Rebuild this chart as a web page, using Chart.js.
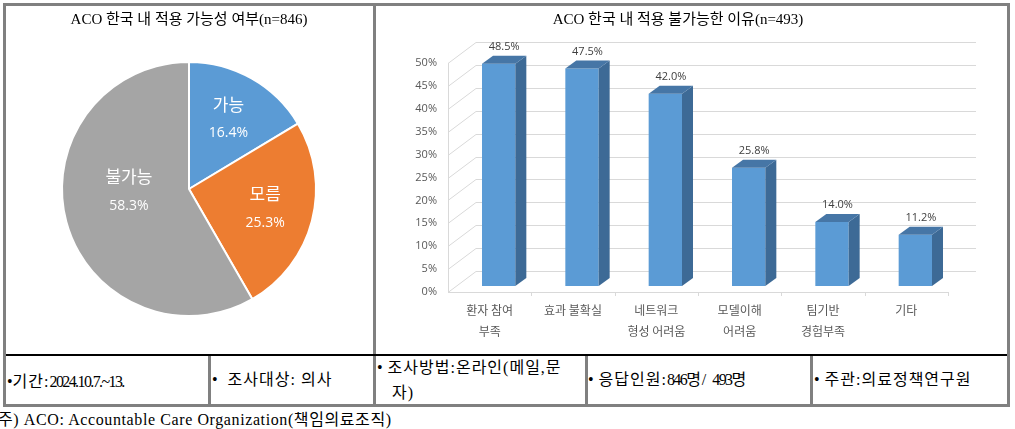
<!DOCTYPE html>
<html><head><meta charset="utf-8">
<script src="https://cdn.jsdelivr.net/npm/chart.js@4"></script>
<style>
html,body{margin:0;padding:0;background:#fff;width:1015px;height:429px;overflow:hidden;position:relative;font-family:'Liberation Serif','Noto Sans CJK KR',serif;}
.abs{position:absolute;}
.g{position:absolute;background:#808080;}
.cell{position:absolute;font-size:16px;color:#000;white-space:nowrap;line-height:25px;letter-spacing:1px;}
.num{letter-spacing:-1.6px;}
.b{letter-spacing:0;}
.foot{letter-spacing:0.6px;}
</style></head><body>
<div class="abs" style="left:3px;top:3px;width:1001px;height:398px;border:3px solid #808080;"></div>
<div class="g" style="left:373px;top:6px;width:3px;height:348px"></div>
<div class="abs" style="left:6px;top:354px;width:1001px;height:2px;background:#000"></div>
<div class="g" style="left:208px;top:356px;width:3px;height:48px"></div>
<div class="g" style="left:373px;top:356px;width:3px;height:48px"></div>
<div class="g" style="left:585px;top:356px;width:3px;height:48px"></div>
<div class="g" style="left:810px;top:356px;width:3px;height:48px"></div>
<canvas id="pie" class="abs" width="367" height="348" style="left:6px;top:6px"></canvas>
<canvas id="bar" class="abs" width="631" height="348" style="left:376px;top:6px"></canvas>

<div class="cell" style="left:7px;top:369px"><span class="b">•</span>기간:<span class="num">2024.10.7.~13.</span></div>
<div class="cell" style="left:212px;top:367px"><span class="b">•</span>&nbsp; 조사대상: 의사</div>
<div class="cell" style="left:377px;top:355px"><span class="b">•</span> 조사방법:온라인(메일,문<br>&nbsp;&nbsp; 자)</div>
<div class="cell" style="left:588px;top:367px"><span class="b">•</span> 응답인원:<span class="num">846</span>명/ <span class="num">493</span>명</div>
<div class="cell" style="left:814px;top:367px"><span class="b">•</span> 주관:의료정책연구원</div>
<div class="cell foot" style="left:-2px;top:407px">주) ACO: Accountable Care Organization(책임의료조직)</div>

<script>
// ---- data ----
const pieLabels = ['가능', '모름', '불가능'];
const pieValues = [16.4, 25.3, 58.3];
const barCategories = [['환자 참여', '부족'], ['효과 불확실'], ['네트워크', '형성 어려움'], ['모델이해', '어려움'], ['팀기반', '경험부족'], ['기타']];
const barValues = [48.5, 47.5, 42.0, 25.8, 14.0, 11.2];
const yTickMax = 50;
const yTickStep = 5;

const pieColors = ['#5B9BD5', '#ED7D31', '#A5A5A5'];
const titleFont = {family: "'Liberation Serif','Noto Sans CJK KR',serif", size: 15, weight: 'normal', lineHeight: 1.2};

// ---- pie labels plugin ----
const pieLabelPlugin = {
  id: 'pieLabels',
  afterDatasetsDraw(chart, args, opts) {
    const ctx = chart.ctx;
    const meta = chart.getDatasetMeta(0);
    ctx.save();
    ctx.fillStyle = '#fff';
    ctx.textAlign = 'center';
    ctx.textBaseline = 'middle';
    meta.data.forEach((arc, i) => {
      const p = arc.getProps(['x', 'y', 'startAngle', 'endAngle', 'outerRadius'], true);
      const mid = (p.startAngle + p.endAngle) / 2;
      const r = p.outerRadius * opts.radial[i];
      const cx = p.x + Math.cos(mid) * r + opts.nudge[i][0];
      const cy = p.y + Math.sin(mid) * r + opts.nudge[i][1];
      ctx.font = "17px 'Noto Sans CJK KR', sans-serif";
      ctx.fillText(pieLabels[i], cx, cy - 15);
      ctx.font = "14px 'Open Sans', 'Noto Sans', sans-serif";
      ctx.fillText(pieValues[i].toFixed(1) + '%', cx, cy + 14);
    });
    ctx.restore();
  }
};

new Chart(document.getElementById('pie'), {
  type: 'pie',
  data: {labels: pieLabels, datasets: [{data: pieValues, backgroundColor: pieColors, borderColor: '#fff', borderWidth: 2}]},
  options: {
    responsive: false, animation: false,
    layout: {padding: {left: 55, right: 56, top: 0, bottom: 37}},
    plugins: {
      legend: {display: false}, tooltip: {enabled: false},
      title: {display: true, text: 'ACO 한국 내 적용 가능성 여부(n=846)', color: '#000', font: titleFont, padding: {top: 5, bottom: 32}},
      pieLabels: {radial: [0.63, 0.62, 0.49], nudge: [[0, 0], [0, 0], [0, -13]]}
    }
  },
  plugins: [pieLabelPlugin]
});

// ---- 3D bar plugin ----
const DX = 28, DY = -21;   // wall depth
const BDX = 11, BDY = -8;  // bar depth
const SX = 9, SY = -6;     // bar plane shift
const bar3d = {
  id: 'bar3d',
  beforeDatasetsDraw(chart) {
    const ctx = chart.ctx, a = chart.chartArea, y = chart.scales.y;
    ctx.save();
    ctx.strokeStyle = '#D9D9D9';
    ctx.lineWidth = 1;
    y.ticks.forEach(t => {
      const py = Math.round(y.getPixelForValue(t.value)) + 0.5;
      ctx.beginPath();
      ctx.moveTo(a.left, py);
      ctx.lineTo(a.left + DX, py + DY);
      ctx.lineTo(a.right + DX, py + DY);
      ctx.stroke();
    });
    ctx.beginPath();
    ctx.moveTo(a.left + 0.5, a.top); ctx.lineTo(a.left + 0.5, a.bottom);
    ctx.stroke();
    const n = barCategories.length;
    ctx.beginPath();
    ctx.moveTo(a.left, a.bottom + 0.5); ctx.lineTo(a.right, a.bottom + 0.5);
    for (let i = 1; i <= n; i++) {
      const px = Math.round(a.left + i * a.width / n) + 0.5;
      ctx.moveTo(px, a.bottom); ctx.lineTo(px, a.bottom + 4);
    }
    ctx.stroke();
    ctx.restore();
    ctx.save();
    ctx.translate(SX, SY);
  },
  afterDatasetsDraw(chart) {
    const ctx = chart.ctx;
    chart.getDatasetMeta(0).data.forEach((b, i) => {
      const p = b.getProps(['x', 'y', 'base', 'width'], true);
      const l = p.x - p.width / 2, r = p.x + p.width / 2;
      ctx.fillStyle = '#3D6A96';
      ctx.beginPath();
      ctx.moveTo(r, p.y); ctx.lineTo(r + BDX, p.y + BDY); ctx.lineTo(r + BDX, p.base + BDY); ctx.lineTo(r, p.base);
      ctx.closePath(); ctx.fill();
      ctx.fillStyle = '#4676A6';
      ctx.beginPath();
      ctx.moveTo(l, p.y); ctx.lineTo(l + BDX, p.y + BDY); ctx.lineTo(r + BDX, p.y + BDY); ctx.lineTo(r, p.y);
      ctx.closePath(); ctx.fill();
      ctx.fillStyle = '#404040';
      ctx.font = "11px 'Open Sans', 'Noto Sans', sans-serif";
      ctx.textAlign = 'center';
      ctx.textBaseline = 'middle';
      ctx.fillText(barValues[i].toFixed(1) + '%', p.x + BDX / 2, p.y + BDY - 9);
    });
    ctx.restore();
  }
};

new Chart(document.getElementById('bar'), {
  type: 'bar',
  data: {labels: barCategories, datasets: [{data: barValues, backgroundColor: '#5B9BD5', borderWidth: 0, barPercentage: 0.4, categoryPercentage: 1}]},
  options: {
    responsive: false, animation: false,
    layout: {padding: {left: 32, right: 59, top: 0, bottom: 0}},
    plugins: {
      legend: {display: false}, tooltip: {enabled: false},
      title: {display: true, text: 'ACO 한국 내 적용 불가능한 이유(n=493)', color: '#000', font: titleFont, padding: {top: 5, bottom: 34}}
    },
    scales: {
      y: {
        min: 0, max: yTickMax,
        afterFit: s => { s.width = 40; },
        grid: {display: false, drawTicks: false}, border: {display: false},
        ticks: {stepSize: yTickStep, padding: 11, color: '#595959', font: {family: "'Open Sans','Noto Sans',sans-serif", size: 11}, callback: v => v + '%'}
      },
      x: {
        afterFit: s => { s.height = 62; },
        grid: {display: false, drawTicks: false}, border: {display: false},
        ticks: {padding: 8, color: '#595959', maxRotation: 0, autoSkip: false, font: {family: "'Noto Sans CJK KR',sans-serif", size: 12, lineHeight: 1.75}}
      }
    }
  },
  plugins: [bar3d]
});
</script>
</body></html>
